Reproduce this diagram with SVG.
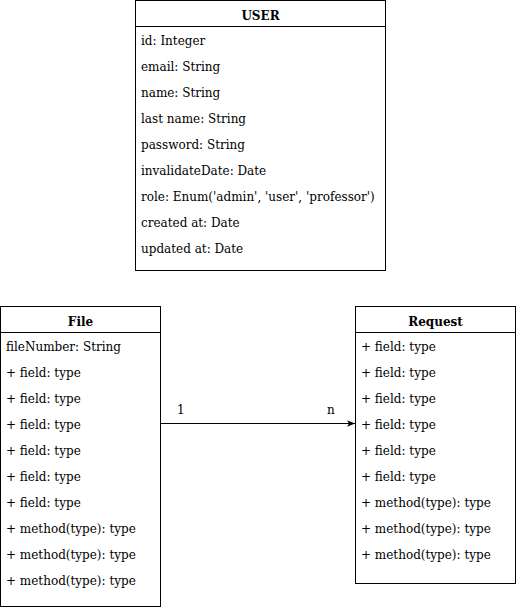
<svg xmlns="http://www.w3.org/2000/svg" width="516" height="607" viewBox="0 0 516 607">
<defs>
<style>
.box{fill:#fff;stroke:#000;stroke-width:1}
.sep{stroke:#000;stroke-width:1}
text{font-family:"DejaVu Serif",serif;font-size:12px;fill:#000}
.title{font-weight:bold;text-anchor:middle}
</style>
<marker id="arr" viewBox="0 0 10 10" refX="10" refY="5" markerWidth="8" markerHeight="8" markerUnits="userSpaceOnUse" orient="auto">
<path d="M0,1 L10,5 L0,9 L2.5,5 Z" fill="#000"/>
</marker>
</defs>
<g id="user">
<rect class="box" x="135.5" y="0.5" width="250" height="270"/>
<line class="sep" x1="135.5" y1="26.5" x2="385.5" y2="26.5"/>
<text class="title" x="260.5" y="20">USER</text>
<text x="141" y="45">id: Integer</text>
<text x="141" y="71">email: String</text>
<text x="141" y="97">name: String</text>
<text x="141" y="123">last name: String</text>
<text x="141" y="149">password: String</text>
<text x="141" y="175">invalidateDate: Date</text>
<text x="141" y="201">role: Enum('admin', 'user', 'professor')</text>
<text x="141" y="227">created at: Date</text>
<text x="141" y="253">updated at: Date</text>
</g>
<g id="file">
<rect class="box" x="0.5" y="306.5" width="160" height="300"/>
<line class="sep" x1="0.5" y1="332.5" x2="160.5" y2="332.5"/>
<text class="title" x="80.5" y="326">File</text>
<text x="6" y="351">fileNumber: String</text>
<text x="6" y="377">+ field: type</text>
<text x="6" y="403">+ field: type</text>
<text x="6" y="429">+ field: type</text>
<text x="6" y="455">+ field: type</text>
<text x="6" y="481">+ field: type</text>
<text x="6" y="507">+ field: type</text>
<text x="6" y="533">+ method(type): type</text>
<text x="6" y="559">+ method(type): type</text>
<text x="6" y="585">+ method(type): type</text>
</g>
<g id="request">
<rect class="box" x="355.5" y="306.5" width="160" height="277"/>
<line class="sep" x1="355.5" y1="332.5" x2="515.5" y2="332.5"/>
<text class="title" x="435.5" y="326">Request</text>
<text x="361" y="351">+ field: type</text>
<text x="361" y="377">+ field: type</text>
<text x="361" y="403">+ field: type</text>
<text x="361" y="429">+ field: type</text>
<text x="361" y="455">+ field: type</text>
<text x="361" y="481">+ field: type</text>
<text x="361" y="507">+ method(type): type</text>
<text x="361" y="533">+ method(type): type</text>
<text x="361" y="559">+ method(type): type</text>
</g>
<g id="connectors">
<line x1="160.5" y1="423.5" x2="355" y2="423.5" stroke="#000" stroke-width="1" marker-end="url(#arr)"/>
<text x="177" y="414">1</text>
<text x="327" y="414">n</text>
</g>
</svg>
